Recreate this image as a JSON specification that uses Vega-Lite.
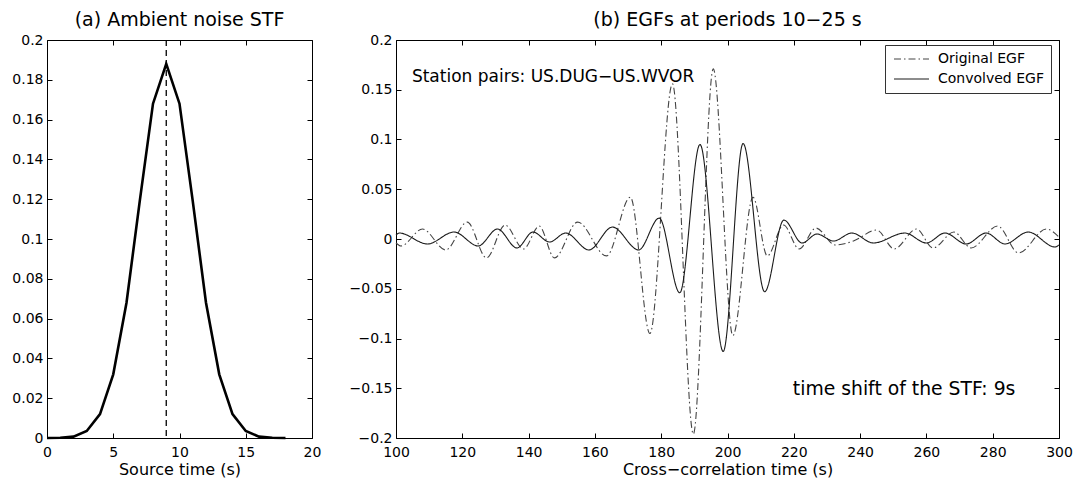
{
  "$schema": "https://vega.github.io/schema/vega-lite/v6.json",
  "background": "white",
  "padding": {"left": 11, "top": 10, "right": 5, "bottom": 2},
  "bounds": "flush",
  "spacing": 84,
  "resolve": {"legend": {"color": "independent", "strokeDash": "independent"}},
  "config": {
    "font": "DejaVu Sans",
    "view": {"stroke": "#000", "strokeWidth": 1},
    "axis": {
      "domain": false,
      "grid": false,
      "labelFlush": false,
      "labelFont": "DejaVu Sans",
      "labelFontSize": 14,
      "labelColor": "#000",
      "tickColor": "#000",
      "tickSize": -5,
      "tickWidth": 1,
      "titleFont": "DejaVu Sans",
      "titleFontSize": 16,
      "titleFontWeight": "normal",
      "titleColor": "#000"
    },
    "title": {"font": "DejaVu Sans", "fontSize": 19, "fontWeight": "normal", "color": "#000", "baseline": "alphabetic", "offset": 3, "anchor": "middle"}
  },
  "datasets": {
    "stf": [
      {"t": 0, "a": 0}, {"t": 1, "a": 0.0001}, {"t": 2, "a": 0.0007}, {"t": 3, "a": 0.0035},
      {"t": 4, "a": 0.012}, {"t": 5, "a": 0.032}, {"t": 6, "a": 0.068}, {"t": 7, "a": 0.119},
      {"t": 8, "a": 0.168}, {"t": 9, "a": 0.188}, {"t": 10, "a": 0.168}, {"t": 11, "a": 0.119},
      {"t": 12, "a": 0.068}, {"t": 13, "a": 0.032}, {"t": 14, "a": 0.012}, {"t": 15, "a": 0.0035},
      {"t": 16, "a": 0.0007}, {"t": 17, "a": 0.0001}, {"t": 18, "a": 0}
    ],
    "egf": [
      {"series": "Original EGF", "t": 100, "v": -0.004},
      {"series": "Original EGF", "t": 101.5, "v": -0.007},
      {"series": "Original EGF", "t": 108, "v": 0.010},
      {"series": "Original EGF", "t": 115, "v": -0.011},
      {"series": "Original EGF", "t": 121.5, "v": 0.017},
      {"series": "Original EGF", "t": 127.3, "v": -0.019},
      {"series": "Original EGF", "t": 132.9, "v": 0.014},
      {"series": "Original EGF", "t": 138.5, "v": -0.010},
      {"series": "Original EGF", "t": 143.2, "v": 0.013},
      {"series": "Original EGF", "t": 147.8, "v": -0.019},
      {"series": "Original EGF", "t": 154.8, "v": 0.017},
      {"series": "Original EGF", "t": 163.5, "v": -0.017},
      {"series": "Original EGF", "t": 170.7, "v": 0.042},
      {"series": "Original EGF", "t": 176.6, "v": -0.095},
      {"series": "Original EGF", "t": 183.4, "v": 0.156},
      {"series": "Original EGF", "t": 189.7, "v": -0.196},
      {"series": "Original EGF", "t": 195.7, "v": 0.171},
      {"series": "Original EGF", "t": 201.6, "v": -0.097},
      {"series": "Original EGF", "t": 207.7, "v": 0.042},
      {"series": "Original EGF", "t": 212, "v": -0.017},
      {"series": "Original EGF", "t": 216.9, "v": 0.014},
      {"series": "Original EGF", "t": 221.6, "v": -0.010},
      {"series": "Original EGF", "t": 226.7, "v": 0.011},
      {"series": "Original EGF", "t": 232.5, "v": -0.006},
      {"series": "Original EGF", "t": 238, "v": -0.002},
      {"series": "Original EGF", "t": 245, "v": 0.009},
      {"series": "Original EGF", "t": 250.3, "v": -0.010},
      {"series": "Original EGF", "t": 257, "v": 0.010},
      {"series": "Original EGF", "t": 262, "v": -0.009},
      {"series": "Original EGF", "t": 268.3, "v": 0.007},
      {"series": "Original EGF", "t": 273.5, "v": -0.009},
      {"series": "Original EGF", "t": 281.5, "v": 0.013},
      {"series": "Original EGF", "t": 287.8, "v": -0.014},
      {"series": "Original EGF", "t": 296.2, "v": 0.010},
      {"series": "Original EGF", "t": 300, "v": 0.002},
      {"series": "Convolved EGF", "t": 100, "v": 0.004},
      {"series": "Convolved EGF", "t": 101, "v": 0.006},
      {"series": "Convolved EGF", "t": 109.5, "v": -0.005},
      {"series": "Convolved EGF", "t": 117.5, "v": 0.007},
      {"series": "Convolved EGF", "t": 124.8, "v": -0.007},
      {"series": "Convolved EGF", "t": 130.6, "v": 0.010},
      {"series": "Convolved EGF", "t": 136.5, "v": -0.009},
      {"series": "Convolved EGF", "t": 141.3, "v": 0.007},
      {"series": "Convolved EGF", "t": 146.3, "v": -0.003},
      {"series": "Convolved EGF", "t": 151.2, "v": 0.006},
      {"series": "Convolved EGF", "t": 158.2, "v": -0.011},
      {"series": "Convolved EGF", "t": 165.3, "v": 0.012},
      {"series": "Convolved EGF", "t": 173.2, "v": -0.011},
      {"series": "Convolved EGF", "t": 179.4, "v": 0.021},
      {"series": "Convolved EGF", "t": 185.6, "v": -0.054},
      {"series": "Convolved EGF", "t": 191.7, "v": 0.095},
      {"series": "Convolved EGF", "t": 198.7, "v": -0.113},
      {"series": "Convolved EGF", "t": 204.7, "v": 0.096},
      {"series": "Convolved EGF", "t": 211.2, "v": -0.053},
      {"series": "Convolved EGF", "t": 217, "v": 0.019},
      {"series": "Convolved EGF", "t": 222.5, "v": -0.004},
      {"series": "Convolved EGF", "t": 227, "v": 0.005},
      {"series": "Convolved EGF", "t": 232, "v": -0.002},
      {"series": "Convolved EGF", "t": 237.5, "v": 0.006},
      {"series": "Convolved EGF", "t": 244, "v": -0.004},
      {"series": "Convolved EGF", "t": 253.5, "v": 0.006},
      {"series": "Convolved EGF", "t": 260, "v": -0.004},
      {"series": "Convolved EGF", "t": 265.6, "v": 0.006},
      {"series": "Convolved EGF", "t": 272, "v": -0.005},
      {"series": "Convolved EGF", "t": 278, "v": 0.006},
      {"series": "Convolved EGF", "t": 283.7, "v": -0.005},
      {"series": "Convolved EGF", "t": 290.7, "v": 0.007},
      {"series": "Convolved EGF", "t": 298.8, "v": -0.008},
      {"series": "Convolved EGF", "t": 300, "v": -0.006}
    ],
    "notes": [
      {"t": 104.8, "v": 0.163, "label": "Station pairs: US.DUG−US.WVOR", "kind": "pair"},
      {"t": 219.7, "v": -0.151, "label": "time shift of the STF: 9s", "kind": "shift"}
    ],
    "shift": [{"t": 9}]
  },
  "hconcat": [
    {
      "width": 265,
      "height": 398,
      "title": {"text": "(a) Ambient noise STF"},
      "resolve": {"axis": {"x": "independent", "y": "independent"}},
      "layer": [
        {
          "data": {"name": "stf"},
          "mark": {"type": "line", "color": "#000", "strokeWidth": 2.6, "strokeJoin": "miter"},
          "encoding": {
            "x": {"field": "t", "type": "quantitative", "scale": {"domain": [0, 20], "nice": false, "zero": false},
                  "axis": {"title": "Source time (s)", "values": [0, 5, 10, 15, 20], "labelPadding": 12, "titlePadding": 2}},
            "y": {"field": "a", "type": "quantitative", "scale": {"domain": [0, 0.2], "nice": false},
                  "axis": {"title": null, "values": [0, 0.02, 0.04, 0.06, 0.08, 0.1, 0.12, 0.14, 0.16, 0.18, 0.2], "format": "~g", "labelPadding": 9}}
          }
        },
        {
          "data": {"name": "shift"},
          "mark": {"type": "rule", "color": "#000", "strokeWidth": 1.3, "strokeDash": [6, 4]},
          "encoding": {
            "x": {"field": "t", "type": "quantitative", "axis": null}
          }
        },
        {
          "data": {"name": "stf"},
          "mark": {"type": "point", "opacity": 0},
          "encoding": {
            "x": {"field": "t", "type": "quantitative", "axis": {"orient": "top", "title": null, "labels": false, "values": [0, 5, 10, 15, 20]}},
            "y": {"field": "a", "type": "quantitative", "axis": {"orient": "right", "title": null, "labels": false, "values": [0, 0.02, 0.04, 0.06, 0.08, 0.1, 0.12, 0.14, 0.16, 0.18, 0.2]}}
          }
        }
      ]
    },
    {
      "width": 663,
      "height": 398,
      "title": {"text": "(b) EGFs at periods 10−25 s"},
      "resolve": {"axis": {"x": "independent", "y": "independent"}},
      "layer": [
        {
          "data": {"name": "egf"},
          "mark": {"type": "line", "strokeWidth": 1.1, "interpolate": "monotone"},
          "encoding": {
            "x": {"field": "t", "type": "quantitative", "scale": {"domain": [100, 300], "nice": false, "zero": false},
                  "axis": {"title": "Cross−correlation time (s)", "values": [100, 120, 140, 160, 180, 200, 220, 240, 260, 280, 300], "labelPadding": 12, "titlePadding": 2}},
            "y": {"field": "v", "type": "quantitative", "scale": {"domain": [-0.2, 0.2], "nice": false},
                  "axis": {"title": null, "values": [-0.2, -0.15, -0.1, -0.05, 0, 0.05, 0.1, 0.15, 0.2], "format": "~g", "labelPadding": 9}},
            "color": {"field": "series", "type": "nominal",
                      "scale": {"domain": ["Original EGF", "Convolved EGF"], "range": ["#444444", "#1a1a1a"]},
                      "legend": {"orient": "none", "legendX": 489, "legendY": 5, "title": null, "strokeColor": "#333", "fillColor": "#fff", "padding": 7, "labelFont": "DejaVu Sans", "labelFontSize": 14, "labelColor": "#000", "symbolType": "M-1,0H6", "symbolSize": 100, "symbolStrokeWidth": 1, "rowPadding": 6, "labelOffset": 32}},
            "strokeDash": {"field": "series", "type": "nominal",
                           "scale": {"domain": ["Original EGF", "Convolved EGF"], "range": [[7, 3, 1.5, 3], [1, 0]]},
                           "legend": {"orient": "none", "legendX": 489, "legendY": 5, "title": null, "strokeColor": "#333", "fillColor": "#fff", "padding": 7, "labelFont": "DejaVu Sans", "labelFontSize": 14, "labelColor": "#000", "symbolType": "M-1,0H6", "symbolSize": 100, "symbolStrokeWidth": 1, "rowPadding": 6, "labelOffset": 32}}
          }
        },
        {
          "data": {"name": "notes"},
          "transform": [{"filter": "datum.kind == 'pair'"}],
          "mark": {"type": "text", "align": "left", "baseline": "middle", "fontSize": 17, "font": "DejaVu Sans", "color": "#000"},
          "encoding": {
            "x": {"field": "t", "type": "quantitative", "axis": null},
            "y": {"field": "v", "type": "quantitative", "axis": null},
            "text": {"field": "label"}
          }
        },
        {
          "data": {"name": "notes"},
          "transform": [{"filter": "datum.kind == 'shift'"}],
          "mark": {"type": "text", "align": "left", "baseline": "middle", "fontSize": 18.8, "font": "DejaVu Sans", "color": "#000"},
          "encoding": {
            "x": {"field": "t", "type": "quantitative", "axis": null},
            "y": {"field": "v", "type": "quantitative", "axis": null},
            "text": {"field": "label"}
          }
        },
        {
          "data": {"name": "egf"},
          "mark": {"type": "point", "opacity": 0},
          "encoding": {
            "x": {"field": "t", "type": "quantitative", "axis": {"orient": "top", "title": null, "labels": false, "values": [100, 120, 140, 160, 180, 200, 220, 240, 260, 280, 300]}},
            "y": {"field": "v", "type": "quantitative", "axis": {"orient": "right", "title": null, "labels": false, "values": [-0.2, -0.15, -0.1, -0.05, 0, 0.05, 0.1, 0.15, 0.2]}}
          }
        }
      ]
    }
  ]
}
